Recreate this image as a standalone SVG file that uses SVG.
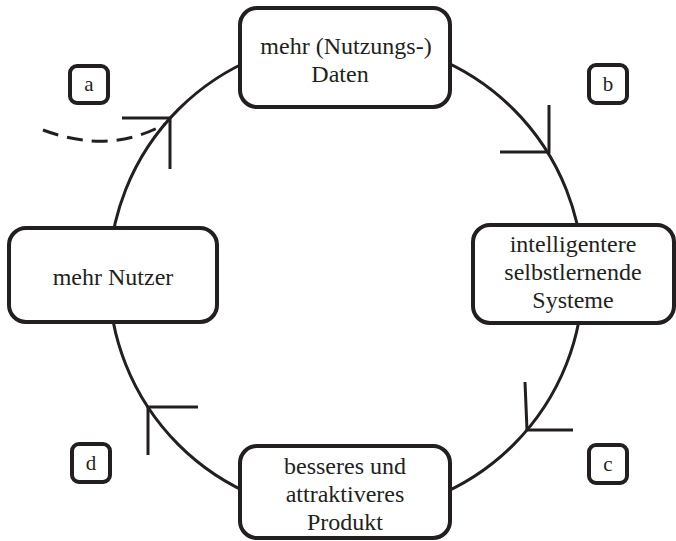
<svg xmlns="http://www.w3.org/2000/svg" width="676" height="541" viewBox="0 0 676 541">
<style>
.node rect{fill:#fff;stroke:#231f20;stroke-width:4}
.lbl rect{fill:#fff;stroke:#231f20;stroke-width:4}
text{font-family:"Liberation Serif","Times New Roman",serif;fill:#231f20;text-anchor:middle}
.t{font-size:24px}
.l{font-size:21px}
.c{fill:none;stroke:#231f20;stroke-width:3}
</style>
<g id="connectors">
<circle class="c" cx="346" cy="277" r="237"/>
<path class="c" d="M43,130 Q110,155 165,124" stroke-dasharray="16,9"/>
<path class="c" d="M122,118 H170 V169"/>
<path class="c" d="M549,105 V152 H500"/>
<path class="c" d="M525,382 L527,430 H573"/>
<path class="c" d="M198,407 H148 V455"/>
</g>
<g id="node-daten" class="node">
<rect x="240" y="8" width="210" height="99" rx="17"/>
<text class="t" x="346" y="54">mehr (Nutzungs-)</text>
<text class="t" x="340" y="82">Daten</text>
</g>
<g id="node-systeme" class="node">
<rect x="473" y="225" width="201" height="98" rx="17"/>
<text class="t" x="573" y="252">intelligentere</text>
<text class="t" x="573" y="280">selbstlernende</text>
<text class="t" x="573" y="308">Systeme</text>
</g>
<g id="node-produkt" class="node">
<rect x="240" y="446" width="210" height="92" rx="17"/>
<text class="t" x="345" y="474">besseres und</text>
<text class="t" x="345" y="502">attraktiveres</text>
<text class="t" x="345" y="530">Produkt</text>
</g>
<g id="node-nutzer" class="node">
<rect x="9" y="228" width="208" height="94" rx="17"/>
<text class="t" x="113" y="285">mehr Nutzer</text>
</g>
<g id="label-a" class="lbl">
<rect x="70" y="66" width="38" height="37" rx="7"/>
<text class="l" x="89" y="91">a</text>
</g>
<g id="label-b" class="lbl">
<rect x="589" y="65" width="38" height="38" rx="7"/>
<text class="l" x="608" y="91">b</text>
</g>
<g id="label-c" class="lbl">
<rect x="589" y="445" width="38" height="38" rx="7"/>
<text class="l" x="608" y="471">c</text>
</g>
<g id="label-d" class="lbl">
<rect x="72" y="444" width="38" height="38" rx="7"/>
<text class="l" x="91" y="470">d</text>
</g>
</svg>
